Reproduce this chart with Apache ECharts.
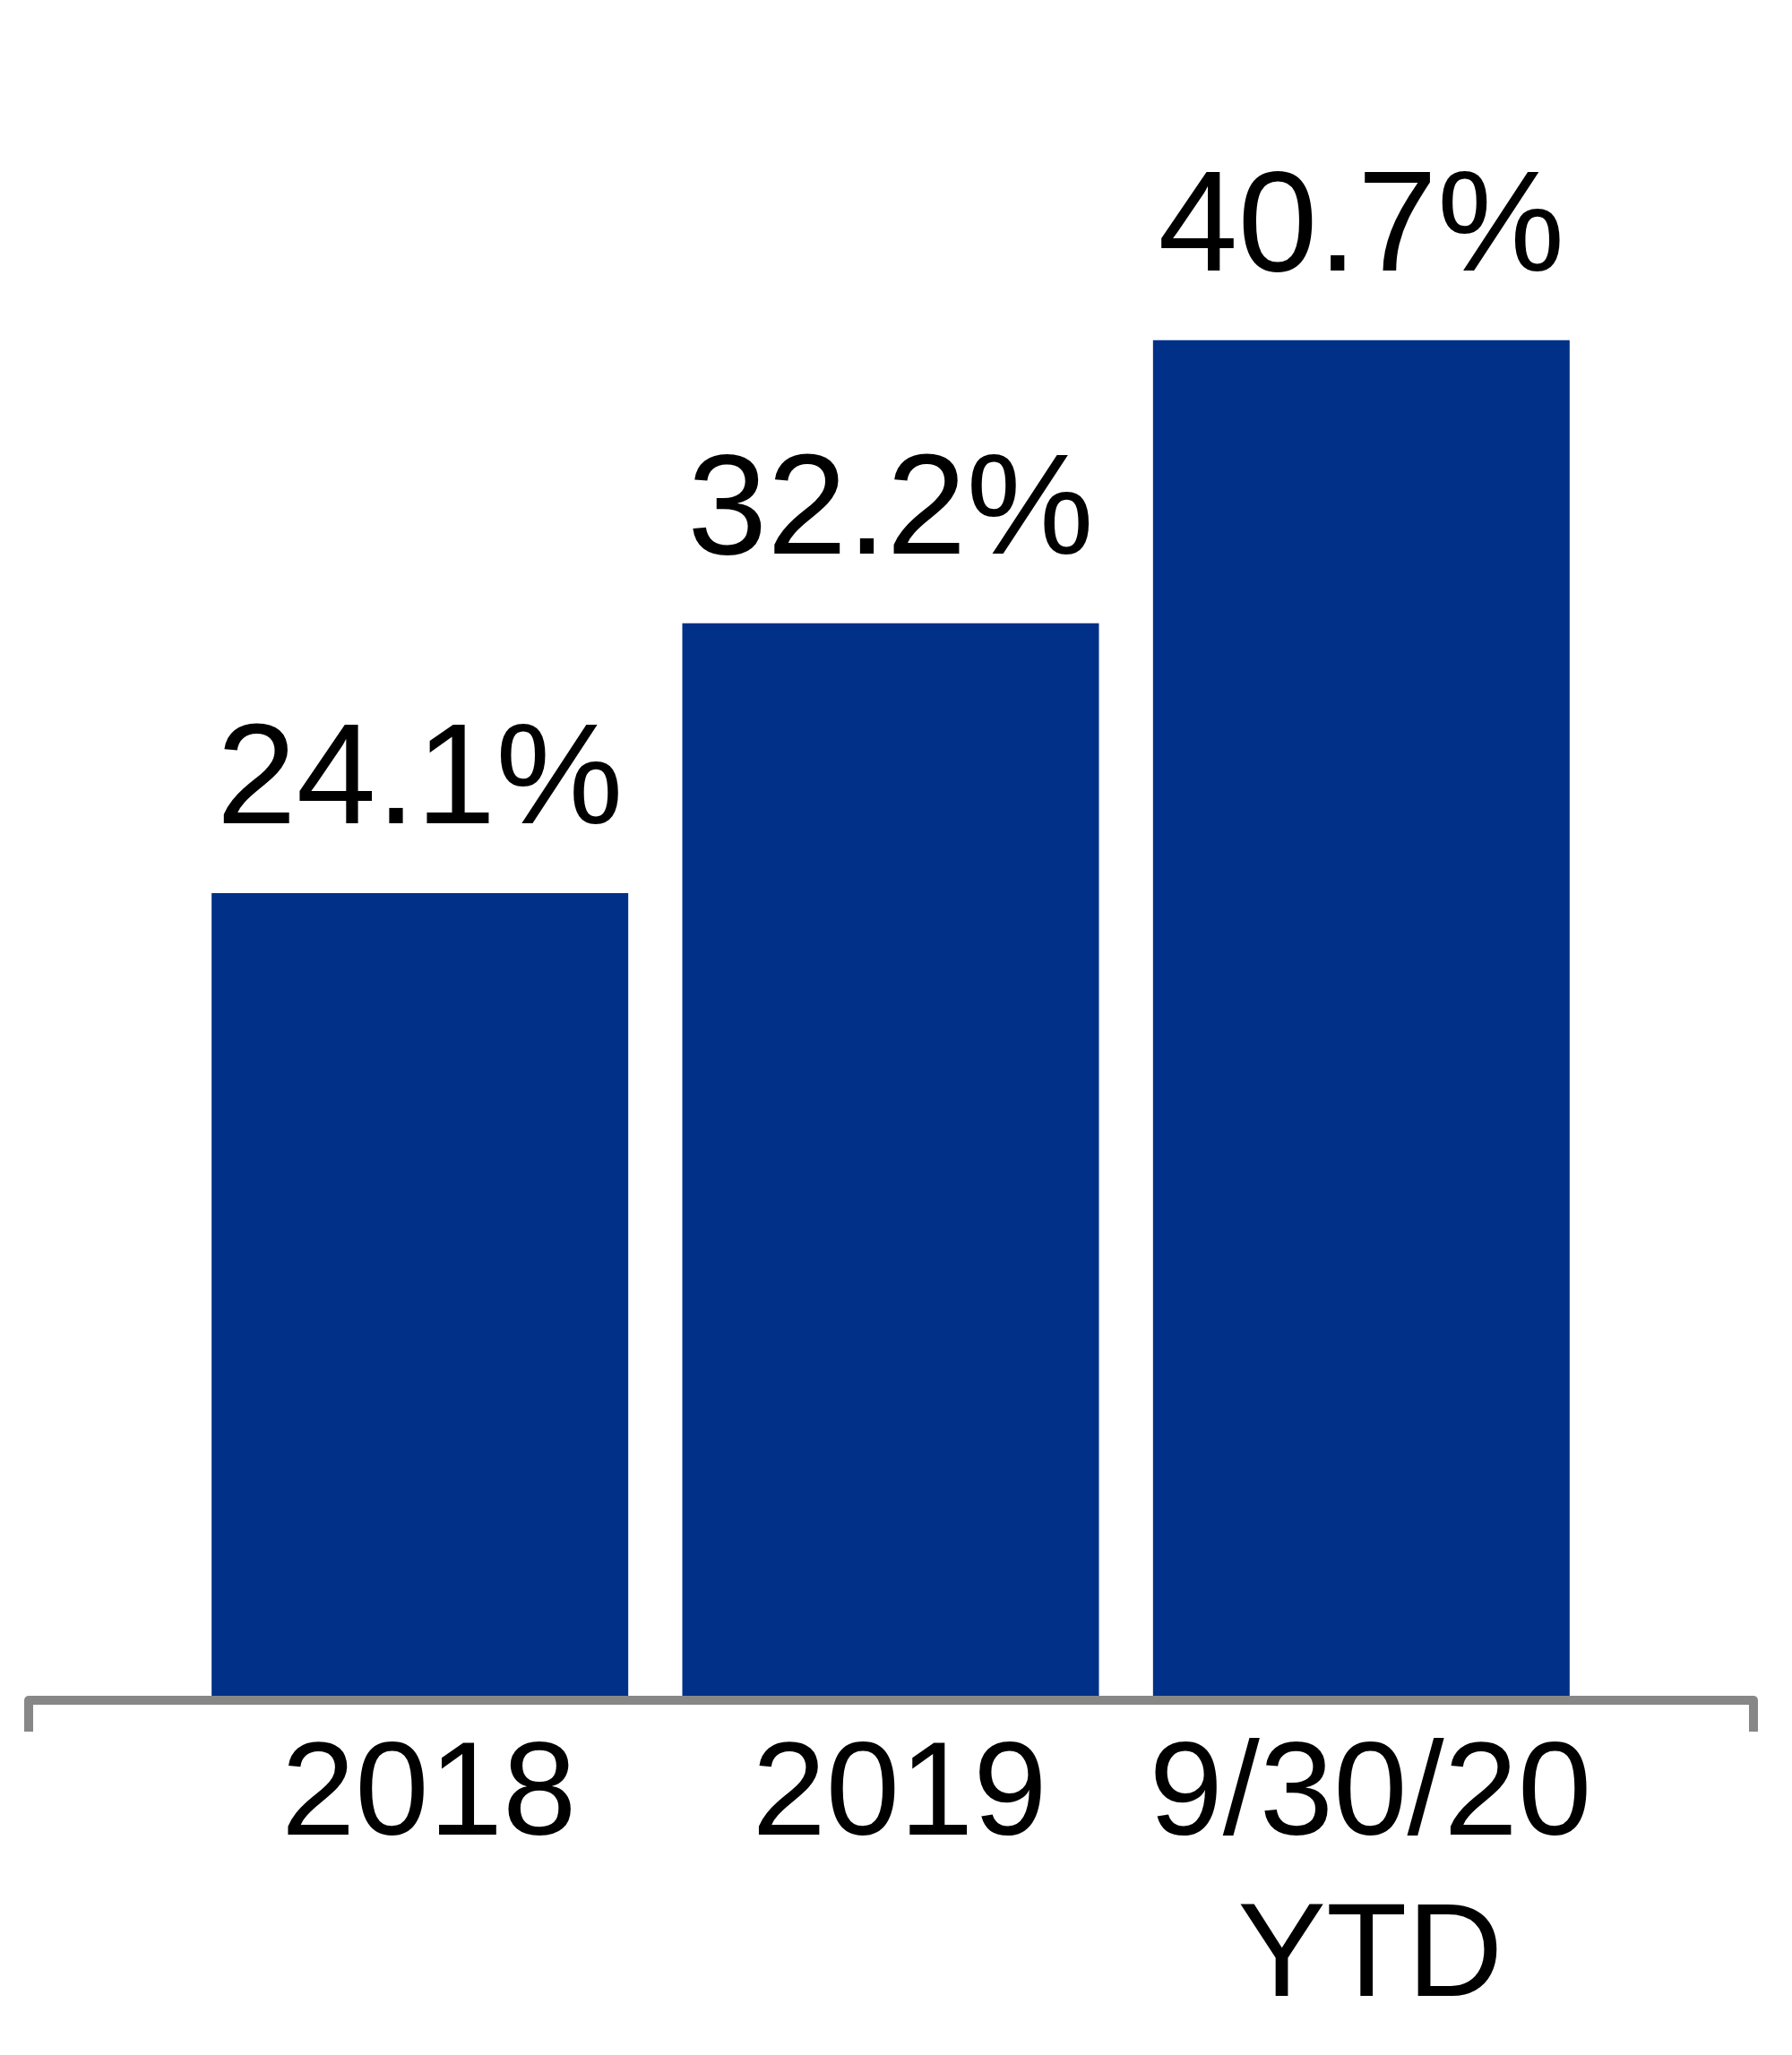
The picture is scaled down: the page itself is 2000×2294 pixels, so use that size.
<!DOCTYPE html>
<html>
<head>
<meta charset="utf-8">
<script src="https://cdn.jsdelivr.net/npm/echarts@6/dist/echarts.min.js"></script>
<style>
html, body { margin: 0; padding: 0; background: #ffffff; }
#chart { width: 2000px; height: 2294px; }
</style>
</head>
<body>
<div id="chart"></div>
<script>
const categories = ['2018', '2019', '9/30/20\nYTD'];
const values = [24.1, 32.2, 40.7];

const chart = echarts.init(document.getElementById('chart'), null, { renderer: 'canvas' });
chart.setOption({
  backgroundColor: '#ffffff',
  animation: false,
  grid: [
    { left: 206, right: 218, top: 34, bottom: 401 },
    { left: 32, right: 43, top: 34, bottom: 396 }
  ],
  xAxis: [
    {
      type: 'category', gridIndex: 0, data: categories,
      axisLine: { show: false }, axisTick: { show: false }, splitLine: { show: false },
      axisLabel: {
        interval: 0, fontSize: 148, lineHeight: 180, margin: 24, color: '#000000',
        fontFamily: 'Liberation Sans, Arial, sans-serif', padding: [0, 0, 0, 20]
      }
    },
    {
      type: 'value', gridIndex: 1, min: 0, max: 1, interval: 1,
      axisLine: { show: true, lineStyle: { color: '#878787', width: 10 } },
      axisTick: { show: true, length: 35, lineStyle: { color: '#878787', width: 10 } },
      axisLabel: { show: false }, splitLine: { show: false }
    }
  ],
  yAxis: [
    { type: 'value', gridIndex: 0, min: 0, max: 50, show: false, splitLine: { show: false } },
    { type: 'value', gridIndex: 1, min: 0, max: 1, show: false, splitLine: { show: false } }
  ],
  series: [
    {
      type: 'bar', xAxisIndex: 0, yAxisIndex: 0, data: values, barWidth: 465,
      itemStyle: { color: '#003087' },
      label: {
        show: true, position: 'top', distance: 42, fontSize: 160, color: '#000000',
        fontFamily: 'Liberation Sans, Arial, sans-serif',
        formatter: p => p.value.toFixed(1) + '%'
      }
    }
  ]
});
</script>
</body>
</html>
